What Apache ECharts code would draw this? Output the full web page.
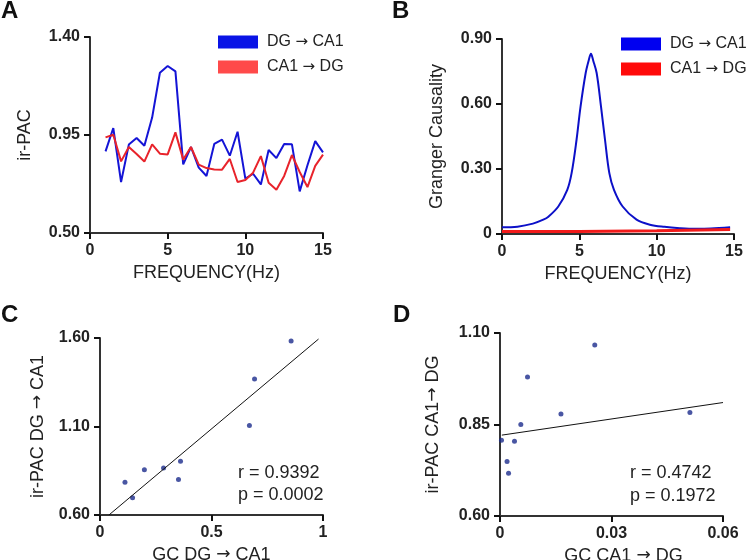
<!DOCTYPE html>
<html><head><meta charset="utf-8">
<script src="https://cdn.jsdelivr.net/npm/echarts@6/dist/echarts.min.js"></script>
<style>html,body{margin:0;padding:0;background:#fff}#c{width:749px;height:560px}</style>
</head><body><div id="c"></div><script>
// ---------- DATA ----------
// Panel A: ir-PAC vs frequency
const freqA = [1,1.5,2,2.5,3,3.5,4,4.5,5,5.5,6,6.5,7,7.5,8,8.5,9,9.5,10,10.5,11,11.5,12,12.5,13,13.5,14,14.5,15];
const pacDgCa1 = [0.875,0.982,0.734,0.906,0.936,0.901,1.030,1.236,1.267,1.242,0.815,0.895,0.800,0.762,0.909,0.929,0.855,0.965,0.750,0.772,0.723,0.881,0.844,0.909,0.907,0.691,0.811,0.922,0.870];
const pacCa1Dg = [0.939,0.951,0.829,0.895,0.863,0.828,0.907,0.864,0.861,0.962,0.837,0.895,0.814,0.798,0.792,0.791,0.840,0.734,0.743,0.777,0.853,0.731,0.699,0.762,0.858,0.780,0.711,0.808,0.860];
// Panel B: Granger causality vs frequency
const freqBBlue = [0,1,2,2.67,3,3.64,4.22,4.5,4.82,5.08,5.41,5.6,5.75,5.9,6.12,6.4,6.66,6.94,7.24,7.8,8.7,9.56,10.5,11.5,12.5,13.5,14.75];
const gcDgCa1 = [0.031,0.034,0.048,0.066,0.080,0.127,0.204,0.281,0.435,0.589,0.743,0.80,0.832,0.80,0.743,0.589,0.435,0.281,0.204,0.127,0.066,0.043,0.033,0.027,0.024,0.025,0.031];
const freqBRed = [0,5,10,14.75];
const gcCa1Dg = [0.012,0.012,0.015,0.021];
// Panel C: scatter GC DG->CA1 vs ir-PAC DG->CA1
const gcC = [0.112,0.146,0.199,0.285,0.352,0.361,0.670,0.693,0.857];
const pacC = [0.785,0.698,0.855,0.866,0.800,0.904,1.106,1.368,1.583];
const fitCx = [0.04,0.98];
const fitCy = [0.60,1.594];
// Panel D: scatter GC CA1->DG vs ir-PAC CA1->DG
const gcD = [0.0004,0.0019,0.0023,0.0039,0.0056,0.0074,0.0164,0.0255,0.0511];
const pacD = [0.807,0.749,0.717,0.804,0.850,0.980,0.879,1.067,0.883];
const fitDx = [0.0005,0.06];
const fitDy = [0.821,0.910];
// Tick values
const ticksAy = [0.50,0.95,1.40];
const ticksBy = [0,0.30,0.60,0.90];
const ticksFreq = [0,5,10,15];
const ticksCx = [0,0.5,1];
const ticksCy = [0.60,1.10,1.60];
const ticksDx = [0,0.03,0.06];
const ticksDy = [0.60,0.85,1.10];
const nameDC = 'DG \u2192 CA1', nameCD = 'CA1 \u2192 DG';

// ---------- CHART ----------
const FONT = "'Liberation Sans', Arial, Helvetica, sans-serif";
const ARROWFONT = "'DejaVu Sans', sans-serif";
const arr = s => s.replace('\u2192', '{ar|\u2192}');
const zip = (a,b) => a.map((v,i)=>[v,b[i]]);
const scaleOf = ticks => ({min:ticks[0], max:ticks[ticks.length-1], interval:+(ticks[1]-ticks[0]).toFixed(6)});
function axis(gridIndex, pos, ticks, fmt, name, nameGap, namePad) {
  return Object.assign({
    type:'value', gridIndex, position:pos,
    name:arr(name), nameGap, nameLocation:'middle',
    nameTextStyle:{color:'#222', fontSize:18, fontFamily:FONT, padding:namePad||0,
      rich:{ar:{fontFamily:ARROWFONT, fontSize:17, color:'#222'}}},
    axisLine:{show:true, onZero:false, lineStyle:{color:'#333', width:2}},
    axisTick:{show:true, inside:false, length:6, lineStyle:{color:'#111', width:2}},
    axisLabel:{show:true, formatter:fmt, margin:10, color:'#222', fontSize:16, fontWeight:'bold', fontFamily:FONT},
    splitLine:{show:false}
  }, scaleOf(ticks));
}
const f2 = v => (Math.abs(v)<1e-9 ? '0' : v.toFixed(2));
const fPlain = v => String(+v.toFixed(4));
const legendBase = {
  orient:'vertical', icon:'rect', itemWidth:40, itemHeight:13, itemGap:9, selectedMode:false,
  formatter:arr,
  textStyle:{color:'#222', fontSize:16, fontFamily:FONT, padding:[0,0,0,4],
    rich:{ar:{fontFamily:ARROWFONT, fontSize:15, color:'#222'}}},
  itemStyle:{borderWidth:0}
};
const opt = {
  animation:false,
  backgroundColor:'#fff',
  grid:[
    {left:90, top:37, width:233, height:196, outerBoundsMode:'none'},
    {left:502, top:39, width:232, height:195, outerBoundsMode:'none'},
    {left:100, top:338, width:223, height:177, outerBoundsMode:'none'},
    {left:500, top:333, width:223, height:183, outerBoundsMode:'none'}
  ],
  xAxis:[
    axis(0,'bottom',ticksFreq,fPlain,'FREQUENCY(Hz)',31),
    axis(1,'bottom',ticksFreq,fPlain,'FREQUENCY(Hz)',31),
    axis(2,'bottom',ticksCx,fPlain,'GC '+nameDC,31),
    axis(3,'bottom',ticksDx,fPlain,'GC '+nameCD,31,[0,0,0,24])
  ],
  yAxis:[
    axis(0,'left',ticksAy,f2,'ir-PAC',56),
    axis(1,'left',ticksBy,f2,'Granger Causality',56),
    axis(2,'left',ticksCy,f2,'ir-PAC '+nameDC,53),
    axis(3,'left',ticksDy,f2,'ir-PAC CA1\u2192 DG',58)
  ],
  legend:[
    Object.assign({}, legendBase, {left:213, top:29, data:[{name:nameDC, itemStyle:{color:'#0a14e6'}},{name:nameCD, itemStyle:{color:'#ff4a4a'}}]}),
    Object.assign({}, legendBase, {left:616, top:31, data:[{name:nameDC, itemStyle:{color:'#0000f0'}},{name:nameCD, itemStyle:{color:'#ff0a0a'}}]})
  ],
  series:[
    {type:'line', name:nameDC, xAxisIndex:0, yAxisIndex:0, data:zip(freqA,pacDgCa1), showSymbol:false, lineStyle:{color:'#1414d6', width:2}, itemStyle:{color:'#1414d6'}},
    {type:'line', name:nameCD, xAxisIndex:0, yAxisIndex:0, data:zip(freqA,pacCa1Dg), showSymbol:false, lineStyle:{color:'#e8232b', width:2}, itemStyle:{color:'#e8232b'}},
    {type:'line', name:nameDC, xAxisIndex:1, yAxisIndex:1, data:zip(freqBBlue,gcDgCa1), showSymbol:false, smooth:0.35, lineStyle:{color:'#0c10c8', width:2}, itemStyle:{color:'#0c10c8'}},
    {type:'line', name:nameCD, xAxisIndex:1, yAxisIndex:1, data:zip(freqBRed,gcCa1Dg), showSymbol:false, lineStyle:{color:'#f21a1a', width:3}, itemStyle:{color:'#f21a1a'}},
    {type:'line', xAxisIndex:2, yAxisIndex:2, data:zip(fitCx,fitCy), showSymbol:false, lineStyle:{color:'#111', width:1}, silent:true},
    {type:'scatter', xAxisIndex:2, yAxisIndex:2, data:zip(gcC,pacC), symbolSize:5, itemStyle:{color:'#1c2c8c'}},
    {type:'line', xAxisIndex:3, yAxisIndex:3, data:zip(fitDx,fitDy), showSymbol:false, lineStyle:{color:'#111', width:1}, silent:true},
    {type:'scatter', xAxisIndex:3, yAxisIndex:3, data:zip(gcD,pacD), symbolSize:5, itemStyle:{color:'#1c2c8c'}}
  ],
  graphic:[
    {type:'text', left:1, top:-1, style:{text:'A', font:"bold 24px "+FONT, fill:'#111'}},
    {type:'text', left:392, top:-1, style:{text:'B', font:"bold 24px "+FONT, fill:'#111'}},
    {type:'text', left:1, top:303, style:{text:'C', font:"bold 24px "+FONT, fill:'#111'}},
    {type:'text', left:393, top:303, style:{text:'D', font:"bold 24px "+FONT, fill:'#111'}},
    {type:'text', left:238, top:464, style:{text:'r = 0.9392', font:"18px "+FONT, fill:'#222'}},
    {type:'text', left:238, top:486, style:{text:'p = 0.0002', font:"18px "+FONT, fill:'#222'}},
    {type:'text', left:630, top:464, style:{text:'r = 0.4742', font:"18px "+FONT, fill:'#222'}},
    {type:'text', left:630, top:487, style:{text:'p = 0.1972', font:"18px "+FONT, fill:'#222'}}
  ]
};
const chart = echarts.init(document.getElementById('c'), null, {renderer:'canvas'});
chart.setOption(opt);
</script></body></html>
